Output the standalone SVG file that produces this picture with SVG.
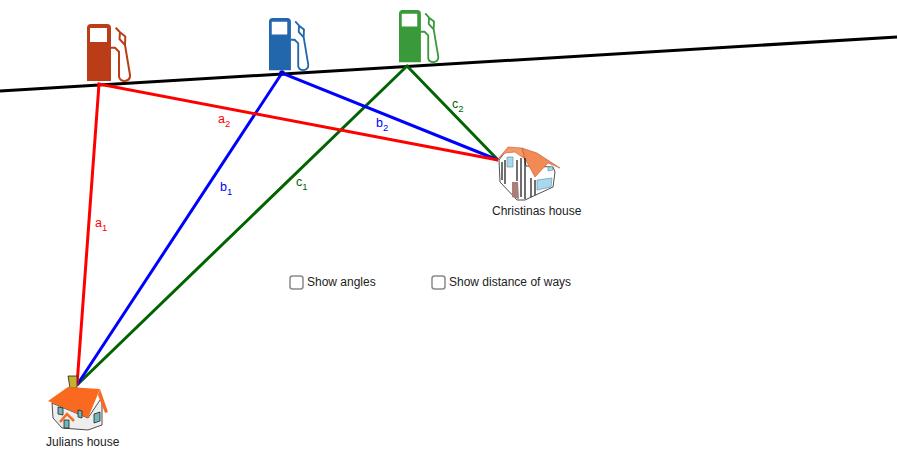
<svg xmlns="http://www.w3.org/2000/svg" width="898" height="468" viewBox="0 0 898 468">
<style>
text{font-family:"Liberation Sans",Arial,sans-serif;font-size:12px;fill:#222}
.lab{font-size:12.500px}
.sub{font-size:9.500px}
.con{fill:none;stroke-width:3}
.box{fill:#fff;stroke:#8a8a8a;stroke-width:1.5}
.ol{stroke:#222;stroke-width:.8}
.r{fill:#ff0000}.b{fill:#0000ff}.g{fill:#006400}
.or{fill:#f59a66}
.gl{fill:#a8d8ee;stroke:#5a8aa0;stroke-width:.6}
</style>
<defs>
<symbol id="pump" viewBox="0 0 46 60" overflow="visible">
<path fill="currentColor" fill-rule="evenodd" d="M0 57V4Q0 0 4 0H20Q24 0 24 4V57ZM3 18H20V4H3Z"/>
<path fill="none" stroke="currentColor" stroke-width="2" stroke-linejoin="round" d="M24 23.700H28L32 27.700V52.700Q33 57 38 57Q43.500 56 43 51L38 21L38.300 12.500L33 8.300L28.700 3.700M33 8.300L32.500 15L38 21"/>
</symbol>
</defs>
<g id="road"><path d="M0 91L897 37" stroke="#000" stroke-width="3"/></g>
<g id="connectors">
<path class="con" stroke="#006400" d="M77 385L407 66L498 160"/>
<path class="con" stroke="#0000ff" d="M77 385L282 73L498 160"/>
<path class="con" stroke="#ff0000" d="M77 385L99 84L498 160"/>
<circle cx="282" cy="73" r="2.800" fill="#0000c8"/>
</g>
<g id="pump-a" color="#bb3d17"><use href="#pump" x="87" y="24" width="46" height="60"/></g>
<g id="pump-b" color="#2266ac"><use href="#pump" x="269" y="18" width="42" height="55"/></g>
<g id="pump-c" color="#399a3a"><use href="#pump" x="399" y="10" width="42" height="55"/></g>
<g id="labels-ways">
<text class="lab r" x="95" y="227">a<tspan class="sub" dy="4">1</tspan></text>
<text class="lab r" x="218" y="123">a<tspan class="sub" dy="4">2</tspan></text>
<text class="lab b" x="220" y="191">b<tspan class="sub" dy="4">1</tspan></text>
<text class="lab b" x="376" y="127">b<tspan class="sub" dy="4">2</tspan></text>
<text class="lab g" x="296" y="186">c<tspan class="sub" dy="4">1</tspan></text>
<text class="lab g" x="452" y="108">c<tspan class="sub" dy="4">2</tspan></text>
</g>
<g id="christinas-house">
<path d="M499 160L508 148L523 150L526 166L553 167L555 172L553 187L525 200L517 200L500 182Z" fill="#fff" class="ol"/>
<path class="or" d="M498 159L508 147L522 148L525 159L515 152L505 153Z" stroke="#c05a30" stroke-width=".6"/>
<path d="M522 148L537 153L560 168L548 163L535 177L525 159Z" fill="#f28a55" stroke="#c05a30" stroke-width=".6"/>
<path class="gl" d="M507 157L513 157V167L507 167Z"/>
<path class="gl" d="M548 168L552 166L553 170L548 171Z"/>
<path class="gl" d="M537 180L552 178L551 187L537 190Z"/>
<path d="M512 182L518 182L519 199L512 197Z" fill="#a88078"/>
<path d="M502 162V180M505 160V184M517 160V181M521 158V197M525 158V199M531 178V197M535 180V195" stroke="#111" stroke-width="1.200" fill="none"/>
<text x="492" y="215">Christinas house</text>
</g>
<g id="julians-house">
<path d="M68 376H77V388H70Z" fill="#c8b030" class="ol"/>
<path d="M52 403L53 418L62 428L88 430L102 425L102 397L88 418Z" fill="#eee" class="ol"/>
<path d="M48 401L68 387L100 389L88 418Z" fill="#f96a20"/>
<path d="M100 389L108 412L105 413L98 395Z" fill="#f96a20"/>
<path d="M58 407L63 408V415L58 414ZM78 410L82 411V418L78 417ZM94 414L100 412V421L94 423Z" fill="#70b8b8" class="ol"/>
<path d="M60 422L67 414L74 421" fill="none" stroke="#f96a20" stroke-width="2.500"/>
<path d="M64 420H69V428H64Z" fill="#70b8b8" class="ol"/>
<text x="46" y="446">Julians house</text>
</g>
<g id="show-angles">
<rect class="box" x="290" y="276" width="13" height="13" rx="2.500"/>
<text x="307" y="286">Show angles</text>
</g>
<g id="show-distance">
<rect class="box" x="432" y="276" width="13" height="13" rx="2.500"/>
<text x="449" y="286">Show distance of ways</text>
</g>
</svg>
